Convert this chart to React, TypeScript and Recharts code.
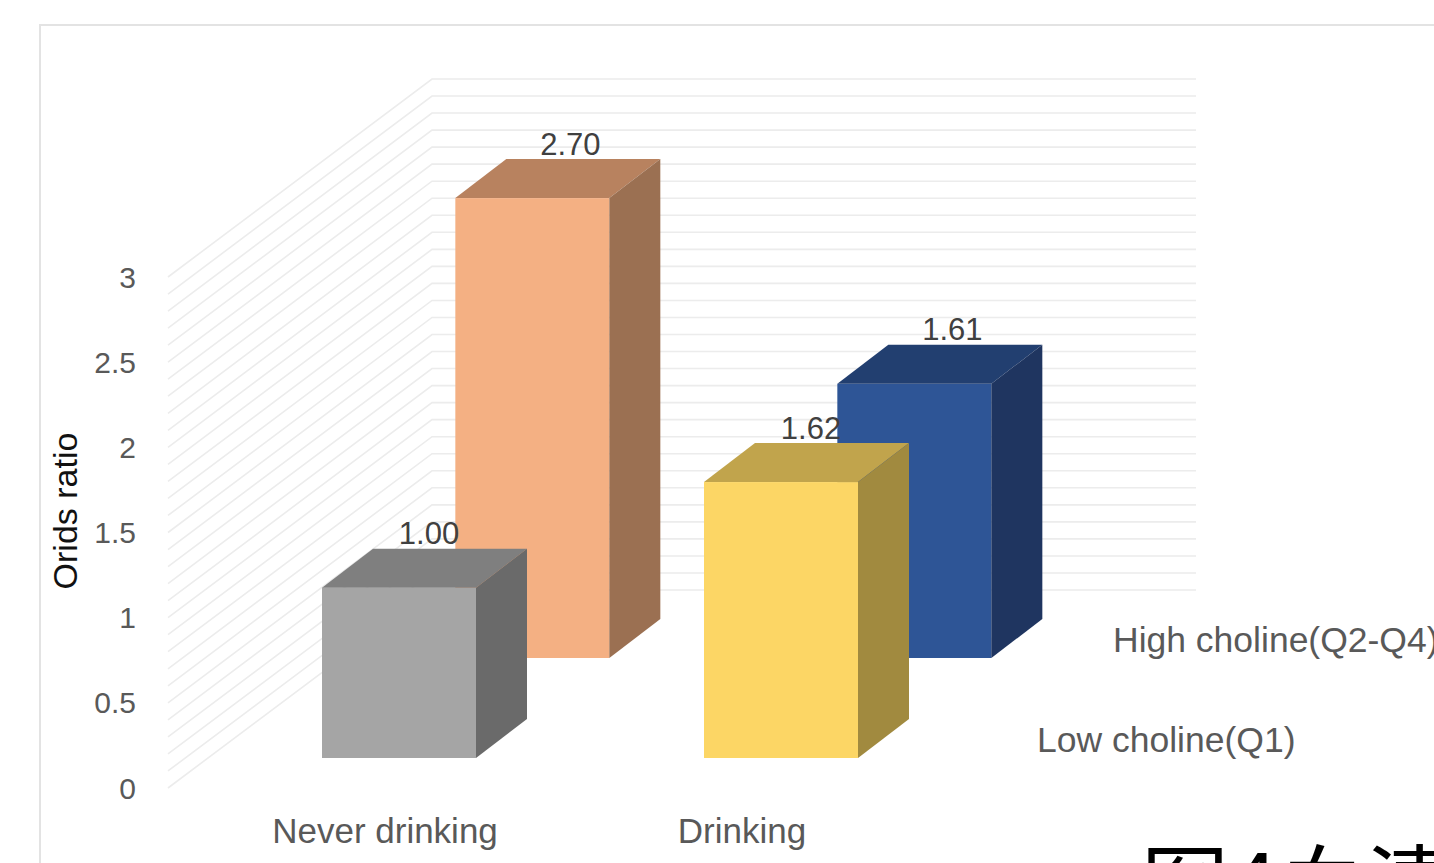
import React from "react";
import { Bar, BarChart, CartesianGrid, XAxis, YAxis } from "recharts";

const categories = ["Never drinking", "Drinking"];
const lowCholine = [1.0, 1.62];
const highCholine = [2.7, 1.61];
const seriesNames = ["Low choline(Q1)", "High choline(Q2-Q4)"];
const yTicks = [0, 0.5, 1, 1.5, 2, 2.5, 3];
// minor wall lines every 0.1
const wallValues = Array.from({ length: 31 }, (_, i) => i / 10);

const data = categories.map((name, i) => ({
  name,
  low: lowCholine[i],
  high: highCholine[i],
}));

const W = 1434;
const H = 863;
// front edge of the floor is the recharts plot area
const PLOT = { left: 168, right: 932, top: 277, bottom: 788 };
const Y_AXIS_W = 60;
const X_AXIS_H = 30;
// whole floor depth and single box depth, in screen px
const DEPTH = { dx: 264, dy: -198 };
const BOX = { dx: 51, dy: -39 };
const SLOPE = DEPTH.dx / -DEPTH.dy;
// how far back each row sits (vertical px from front edge)
const ROW_DEPTH = { low: 30, high: 130 };
// category labels sit a little off the band centre
const X_LABEL_NUDGE = [26, 1];

const FONT = "'Liberation Sans', Arial, sans-serif";
const GREY_TEXT = "#595959";

const colors = {
  low: [
    { front: "#a5a5a5", top: "#7f7f7f", side: "#6a6a6a" },
    { front: "#fcd665", top: "#c1a44c", side: "#a18a3f" },
  ],
  high: [
    { front: "#f4b083", top: "#b8825f", side: "#9b7052" },
    { front: "#2e5596", top: "#223f70", side: "#1f3560" },
  ],
};

type Row = "low" | "high";

function Box3D(props: any) {
  const { x, y, width, height, index, row } = props as {
    x: number;
    y: number;
    width: number;
    height: number;
    index: number;
    row: Row;
  };
  const d = ROW_DEPTH[row];
  const ox = x + d * SLOPE;
  const oy = y - d;
  const c = colors[row][index];
  const { dx, dy } = BOX;
  const value = (row === "low" ? lowCholine : highCholine)[index];
  const top = `${ox},${oy} ${ox + width},${oy} ${ox + width + dx},${oy + dy} ${ox + dx},${oy + dy}`;
  const side = `${ox + width},${oy} ${ox + width + dx},${oy + dy} ${ox + width + dx},${oy + height + dy} ${ox + width},${oy + height}`;
  return (
    <g>
      <rect x={ox} y={oy} width={width} height={height} fill={c.front} />
      <polygon points={top} fill={c.top} />
      <polygon points={side} fill={c.side} />
      <text
        x={ox + width / 2 + (row === "low" ? 30 : 38)}
        y={oy + dy - 15}
        textAnchor="middle"
        dominantBaseline="central"
        fontFamily={FONT}
        fontSize={31}
        fill="#404040"
      >
        {value.toFixed(2)}
      </text>
    </g>
  );
}

function WallLine(p: any) {
  const { x1, y1, x2, index } = p;
  const bx = x1 + DEPTH.dx;
  const by = y1 + DEPTH.dy;
  return (
    <polyline
      key={`wall-${index ?? y1}`}
      points={`${x1},${y1} ${bx},${by} ${x2 + DEPTH.dx},${by}`}
      fill="none"
      stroke="#ececec"
      strokeWidth={1.6}
    />
  );
}

function YTick(p: any) {
  return (
    <text
      x={136}
      y={p.y}
      textAnchor="end"
      dominantBaseline="central"
      fontFamily={FONT}
      fontSize={30}
      fill={GREY_TEXT}
    >
      {p.payload.value}
    </text>
  );
}

function XTick(p: any) {
  return (
    <text
      x={p.x + (X_LABEL_NUDGE[p.index] ?? 0)}
      y={p.y + 34}
      textAnchor="middle"
      dominantBaseline="central"
      fontFamily={FONT}
      fontSize={35}
      fill={GREY_TEXT}
    >
      {p.payload.value}
    </text>
  );
}

export default function App() {
  return (
    <div
      style={{
        position: "absolute",
        left: 0,
        top: 0,
        width: W,
        height: H,
        overflow: "hidden",
        background: "#fff",
      }}
    >
      <BarChart
        width={W}
        height={H}
        data={data}
        barSize={154}
        barGap={-154}
        margin={{
          top: PLOT.top,
          right: W - PLOT.right,
          bottom: H - PLOT.bottom - X_AXIS_H,
          left: PLOT.left - Y_AXIS_W,
        }}
      >
        <rect x={40} y={25} width={1500} height={900} fill="none" stroke="#e3e3e3" strokeWidth={2} />
        <CartesianGrid
          vertical={false}
          horizontal={WallLine}
          horizontalValues={wallValues}
          stroke="#ececec"
        />
        <XAxis
          dataKey="name"
          axisLine={false}
          tickLine={false}
          height={X_AXIS_H}
          tick={XTick}
          interval={0}
        />
        <YAxis
          width={Y_AXIS_W}
          domain={[0, 3]}
          ticks={yTicks}
          axisLine={false}
          tickLine={false}
          tick={YTick}
          interval={0}
        />
        <Bar
          dataKey="high"
          name={seriesNames[1]}
          isAnimationActive={false}
          shape={(p: any) => <Box3D {...p} row="high" />}
        />
        <Bar
          dataKey="low"
          name={seriesNames[0]}
          isAnimationActive={false}
          shape={(p: any) => <Box3D {...p} row="low" />}
        />
        <text
          x={PLOT.right + 105}
          y={PLOT.bottom - 48}
          dominantBaseline="central"
          fontFamily={FONT}
          fontSize={35.5}
          fill={GREY_TEXT}
        >
          {seriesNames[0]}
        </text>
        <text
          x={PLOT.right + 181}
          y={PLOT.bottom - 148}
          dominantBaseline="central"
          fontFamily={FONT}
          fontSize={35.5}
          fill={GREY_TEXT}
        >
          {seriesNames[1]}
        </text>
        <text
          x={65}
          y={511}
          transform="rotate(-90 65 511)"
          textAnchor="middle"
          dominantBaseline="central"
          fontFamily={FONT}
          fontSize={34}
          fill="#111"
        >
          Orids ratio
        </text>
        <text
          x={1141}
          y={918}
          fontFamily="'Noto Sans CJK SC', sans-serif"
          fontSize={88}
          fill="#000"
        >
          图4血清
        </text>
      </BarChart>
    </div>
  );
}
